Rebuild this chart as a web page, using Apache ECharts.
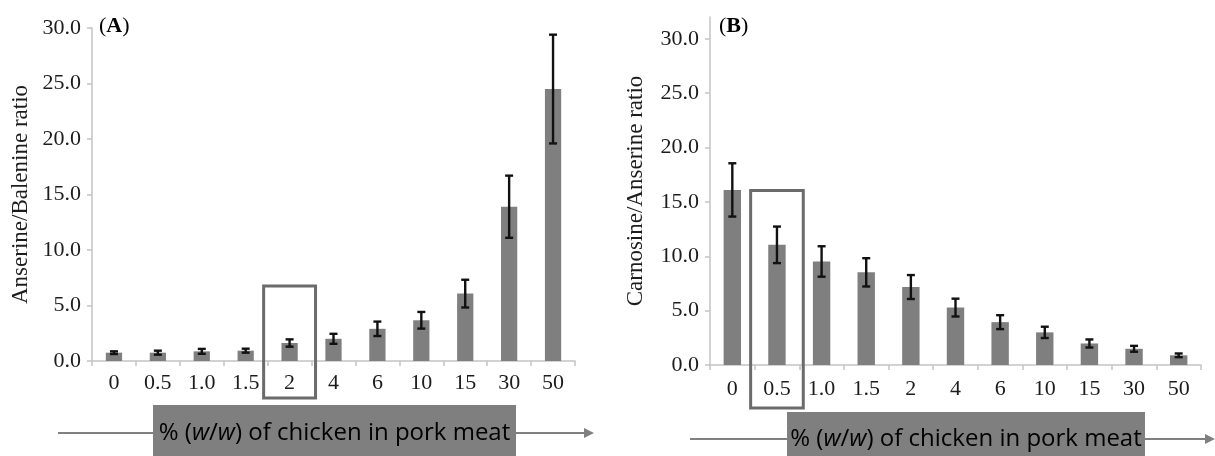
<!DOCTYPE html>
<html>
<head>
<meta charset="utf-8">
<script src="https://cdn.jsdelivr.net/npm/echarts@6/dist/echarts.min.js"></script>
<style>
  html, body { margin: 0; padding: 0; background: #fff; }
  #chart { width: 1215px; height: 456px; }
</style>
</head>
<body>
<div id="chart"></div>
<script>
// Percentage (w/w) of chicken added to pork meat
const categories = ['0', '0.5', '1.0', '1.5', '2', '4', '6', '10', '15', '30', '50'];

// (A) Anserine/Balenine ratio: mean and standard deviation
const ratioA = [0.75, 0.75, 0.87, 0.93, 1.62, 2.0, 2.9, 3.67, 6.07, 13.9, 24.5];
const errA   = [0.12, 0.18, 0.22, 0.18, 0.33, 0.45, 0.65, 0.75, 1.25, 2.8, 4.9];

// (B) Carnosine/Anserine ratio: mean and standard deviation
const ratioB = [16.1, 11.05, 9.52, 8.52, 7.17, 5.28, 3.94, 3.0, 1.98, 1.49, 0.89];
const errB   = [2.45, 1.68, 1.4, 1.3, 1.1, 0.82, 0.64, 0.52, 0.37, 0.27, 0.17];

// y-axis tick values
const yTicks = [0, 5, 10, 15, 20, 25, 30];

// Highlighted categories and the ratio level the frame reaches
const highlightA = { category: '2', top: 6.76 };
const highlightB = { category: '0.5', top: 16.04 };

const SERIF = '"Liberation Serif", "DejaVu Serif", serif';
const SANS = '"Open Sans", "Noto Sans", sans-serif';
const AXIS_GREY = '#c4c4c4';
const BAR_GREY = '#7f7f7f';
const TEXT = '#1c1c1c';

const chart = echarts.init(document.getElementById('chart'), null, { renderer: 'canvas' });

function xAxisCfg(gridIndex, margin) {
  return {
    type: 'category',
    gridIndex: gridIndex,
    data: categories,
    boundaryGap: true,
    axisLine: { lineStyle: { color: AXIS_GREY, width: 1.5 } },
    axisTick: { show: true, length: 5, lineStyle: { color: AXIS_GREY, width: 1.5 } },
    axisLabel: { color: TEXT, fontFamily: SERIF, fontSize: 22, margin: margin, interval: 0 },
    splitLine: { show: false }
  };
}

function yAxisCfg(gridIndex, max, name, nameGap) {
  return {
    type: 'value',
    gridIndex: gridIndex,
    min: 0,
    max: max,
    interval: 5,
    name: name,
    nameLocation: 'middle',
    nameGap: nameGap,
    nameTextStyle: { color: TEXT, fontFamily: SERIF, fontSize: 23 },
    axisLine: { show: true, lineStyle: { color: AXIS_GREY, width: 1.5 } },
    axisTick: { show: true, length: 5, customValues: yTicks, lineStyle: { color: AXIS_GREY, width: 1.5 } },
    axisLabel: {
      color: TEXT, fontFamily: SERIF, fontSize: 22, margin: 11,
      customValues: yTicks,
      formatter: v => v.toFixed(1)
    },
    splitLine: { show: false }
  };
}

// Error bar renderer: vertical whisker with caps
function errorBarRenderer(means, errs) {
  return function (params, api) {
    const i = api.value(0);
    const hi = api.coord([i, means[i] + errs[i]]);
    const lo = api.coord([i, means[i] - errs[i]]);
    const cap = 4;
    const style = { stroke: '#111', lineWidth: 2.4 };
    return {
      type: 'group',
      children: [
        { type: 'line', shape: { x1: hi[0], y1: hi[1], x2: lo[0], y2: lo[1] }, style: style },
        { type: 'line', shape: { x1: hi[0] - cap, y1: hi[1], x2: hi[0] + cap, y2: hi[1] }, style: style },
        { type: 'line', shape: { x1: lo[0] - cap, y1: lo[1], x2: lo[0] + cap, y2: lo[1] }, style: style }
      ]
    };
  };
}

const option = {
  animation: false,
  backgroundColor: '#ffffff',
  grid: [
    { left: 92, top: 28, width: 483, height: 333 },
    { left: 710, top: 17, width: 491, height: 348 }
  ],
  xAxis: [xAxisCfg(0, 11), xAxisCfg(1, 13)],
  yAxis: [
    yAxisCfg(0, 30, 'Anserine/Balenine ratio', 60),
    yAxisCfg(1, 32, 'Carnosine/Anserine ratio', 63)
  ],
  series: [
    {
      type: 'bar', xAxisIndex: 0, yAxisIndex: 0, data: ratioA,
      barWidth: '37%', itemStyle: { color: BAR_GREY }
    },
    {
      type: 'custom', xAxisIndex: 0, yAxisIndex: 0,
      data: categories.map((c, i) => [i, ratioA[i]]),
      renderItem: errorBarRenderer(ratioA, errA), z: 5
    },
    {
      type: 'bar', xAxisIndex: 1, yAxisIndex: 1, data: ratioB,
      barWidth: '39%', itemStyle: { color: BAR_GREY }
    },
    {
      type: 'custom', xAxisIndex: 1, yAxisIndex: 1,
      data: categories.map((c, i) => [i, ratioB[i]]),
      renderItem: errorBarRenderer(ratioB, errB), z: 5
    }
  ]
};

chart.setOption(option);

// Frame around a highlighted category, from its ratio level down below the tick label
function frameFor(gridIndex, hl, bottomY) {
  const idx = categories.indexOf(hl.category);
  const finder = { xAxisIndex: gridIndex, yAxisIndex: gridIndex };
  const center = chart.convertToPixel(finder, [idx, hl.top]);
  const next = chart.convertToPixel(finder, [idx + 1, hl.top]);
  const band = next[0] - center[0];
  const half = band / 2 + 4;
  return {
    type: 'rect',
    shape: { x: center[0] - half, y: center[1], width: 2 * half, height: bottomY - center[1] },
    style: { fill: null, stroke: '#6b6b6b', lineWidth: 3 },
    z: 10
  };
}

// Banner with axis arrow underneath each panel
function banner(x0, x1, y0, lineStart, lineEnd, lineY) {
  const richText = {
    n: { fontFamily: SANS, fontSize: 24, color: '#f4f4f4' },
    i: { fontFamily: SANS, fontSize: 24, color: '#f4f4f4', fontStyle: 'italic' }
  };
  return [
    {
      type: 'line', shape: { x1: lineStart, y1: lineY, x2: lineEnd - 8, y2: lineY },
      style: { stroke: '#808080', lineWidth: 2 }, z: 1
    },
    {
      type: 'polygon',
      shape: { points: [[lineEnd, lineY], [lineEnd - 10, lineY - 5], [lineEnd - 10, lineY + 5]] },
      style: { fill: '#808080' }, z: 1
    },
    {
      type: 'rect', shape: { x: x0, y: y0, width: x1 - x0, height: 456 - y0 },
      style: { fill: '#7f7f7f' }, z: 2
    },
    {
      type: 'text', x: (x0 + x1) / 2, y: lineY, z: 3,
      style: {
        text: '{n|% (}{i|w}{n|/}{i|w}{n|) of chicken in pork meat}',
        rich: richText, align: 'center', verticalAlign: 'middle'
      }
    }
  ];
}

function panelTag(x, y, letter) {
  return {
    type: 'text', x: x, y: y, z: 10,
    style: {
      text: '{p|(}{b|' + letter + '}{p|)}',
      rich: {
        p: { fontFamily: SERIF, fontSize: 22, color: TEXT },
        b: { fontFamily: SERIF, fontSize: 22, color: TEXT, fontWeight: 'bold' }
      },
      verticalAlign: 'middle'
    }
  };
}

chart.setOption({
  graphic: [
    frameFor(0, highlightA, 398),
    frameFor(1, highlightB, 408),
    ...banner(153, 516, 405, 58, 594, 433),
    ...banner(787, 1145, 412, 690, 1215, 439),
    panelTag(99, 26, 'A'),
    panelTag(719, 26, 'B')
  ]
});
</script>
</body>
</html>
